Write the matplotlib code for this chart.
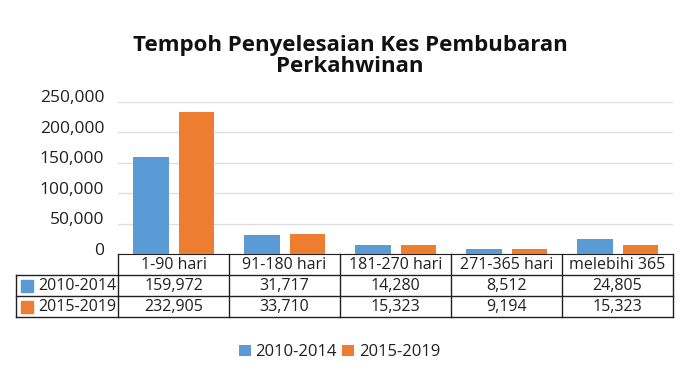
import numpy as np
import matplotlib.pyplot as plt
import matplotlib.transforms as mtransforms

categories = ["1-90 hari", "91-180 hari", "181-270 hari", "271-365 hari", "melebihi 365"]
series_names = ["2010-2014", "2015-2019"]
values_2010 = [159972, 31717, 14280, 8512, 24805]
values_2015 = [232905, 33710, 15323, 9194, 15323]
yticks = [0, 50000, 100000, 150000, 200000, 250000]

colors = ["#5B9BD5", "#ED7D31"]
ink = "#231F20"

plt.rcParams['font.family'] = ['Open Sans', 'DejaVu Sans']

fig = plt.figure(figsize=(7, 3.85), dpi=100)
ax = fig.add_axes([0.1686, 0.340, 0.793, 0.395])

x = np.arange(len(categories))
w = 0.32
ax.bar(x - 0.205, values_2010, w, color=colors[0], label=series_names[0], zorder=3)
ax.bar(x + 0.205, values_2015, w, color=colors[1], label=series_names[1], zorder=3)

ax.set_xlim(-0.5, len(categories) - 0.5)
ax.set_ylim(0, 250000)
ax.set_yticks(yticks)
ax.set_yticklabels([f"{v:,}" for v in yticks], fontsize=12.5, color=ink)
ax.tick_params(axis="y", length=0, pad=10)
# labels sit a little above their gridlines
shift = mtransforms.ScaledTranslation(0, 4 / 72, fig.dpi_scale_trans)
for lbl in ax.get_yticklabels():
    lbl.set_transform(lbl.get_transform() + shift)
ax.set_xticks([])
ax.grid(axis="y", color="#DDDDDD", linewidth=0.9, zorder=0)
for s in ["top", "right", "left"]:
    ax.spines[s].set_visible(False)
ax.spines["bottom"].set_color(ink)

# data table drawn under the axes
row_h = 21 / 152
lab_w = 102 / 555
ncol = len(categories)
tr = ax.transAxes
line_kw = dict(color=ink, linewidth=1.0, transform=tr, clip_on=False)

for k in range(1, 4):
    ax.plot([-lab_w, 1], [-k * row_h, -k * row_h], **line_kw)
ax.plot([-lab_w, -lab_w], [-row_h, -3 * row_h], **line_kw)
for i in range(ncol + 1):
    ax.plot([i / ncol, i / ncol], [0, -3 * row_h], **line_kw)

for i, cat in enumerate(categories):
    ax.text((i + 0.5) / ncol, -0.5 * row_h, cat, transform=tr, ha="center",
            va="center", fontsize=11.5, color=ink)

rows = [values_2010, values_2015]
for r, (name, vals) in enumerate(zip(series_names, rows)):
    yc = -(1.5 + r) * row_h
    ax.plot([-lab_w + 0.019], [yc], marker="s", markersize=8, color=colors[r],
            transform=tr, clip_on=False)
    ax.text(-lab_w + 0.04, yc, name, transform=tr, ha="left", va="center",
            fontsize=11.5, color=ink)
    for i, v in enumerate(vals):
        ax.text((i + 0.5) / ncol, yc, f"{v:,}", transform=tr, ha="center",
                va="center", fontsize=11.5, color=ink)

fig.text(0.5, 0.855, "Tempoh Penyelesaian Kes Pembubaran\nPerkahwinan", ha="center",
         va="center", fontsize=16, fontweight="bold", color="#111111", linespacing=1.0)

fig.legend(loc="center", bbox_to_anchor=(0.485, 0.085), ncol=2, frameon=False,
           fontsize=12, handlelength=0.7, handleheight=0.7, handletextpad=0.3,
           columnspacing=0.3, labelcolor=ink)

fig.savefig("out.png", dpi=100)
